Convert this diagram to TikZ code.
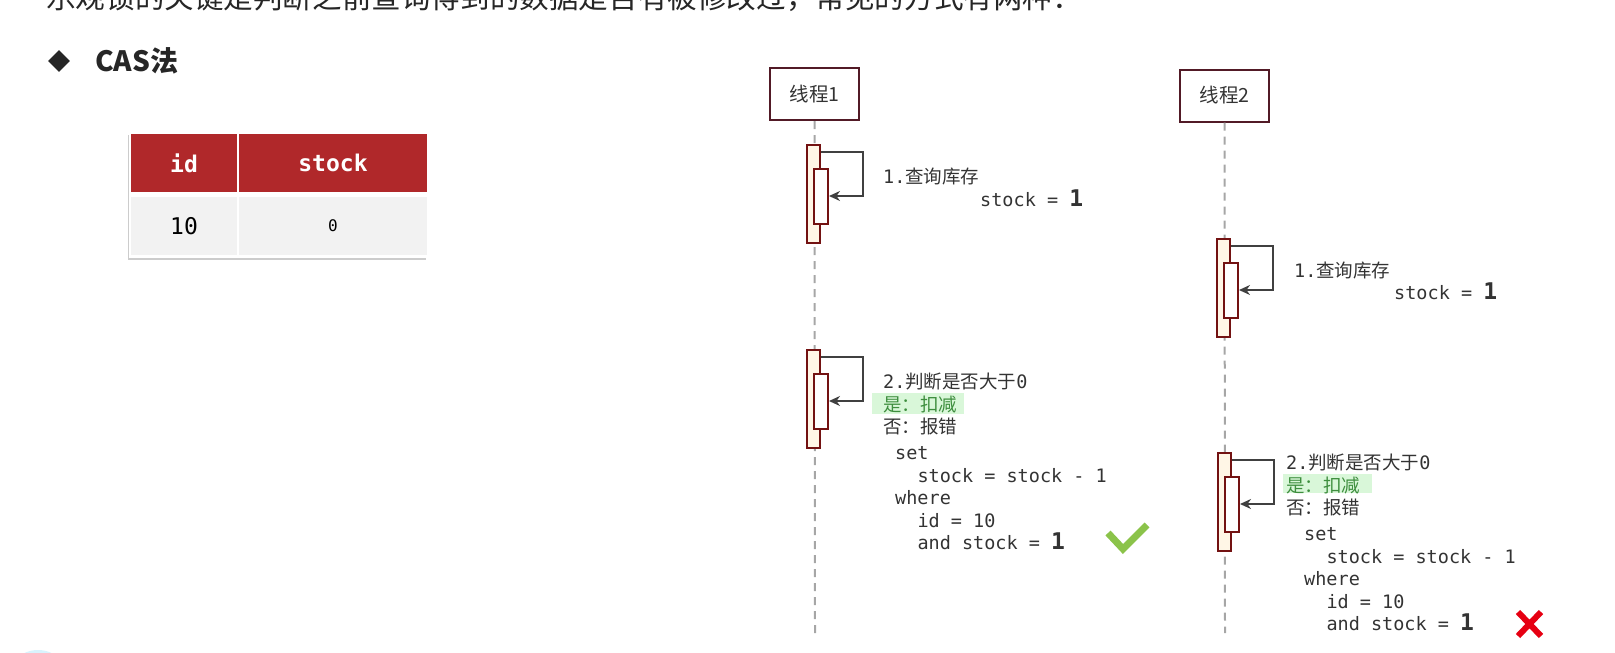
\documentclass[tikz,border=0pt]{standalone}
\usepackage{fontspec}
\setmainfont{Noto Sans CJK SC}
\setmonofont{DejaVu Sans Mono}
\usetikzlibrary{arrows.meta,shadows,shapes.geometric}

\definecolor{boxline}{HTML}{521A26}
\definecolor{barline}{HTML}{731212}
\definecolor{barfill}{HTML}{FFF6E6}
\definecolor{headred}{HTML}{B0282A}
\definecolor{rowgray}{HTML}{F2F2F2}
\definecolor{txtgray}{HTML}{333333}
\definecolor{hlgreen}{HTML}{D9F7D9}
\definecolor{hltext}{HTML}{3E8E3E}
\definecolor{okgreen}{HTML}{8BC34A}
\definecolor{nored}{HTML}{E60012}

\newcommand\zh[1]{{\rmfamily #1}}
\newcommand\one{{\fontsize{23}{23}\selectfont\bfseries 1}}
\newcommand\ind{\hspace*{22.3pt}}

\tikzset{
    thread/.style={draw=boxline, line width=2pt, minimum width=89pt, minimum height=52pt,
        inner sep=0pt, text=txtgray, font=\fontsize{19.5}{20}\selectfont},
    life/.style={draw=black!35, line width=2pt, dash pattern=on 8pt off 6pt},
    outerbar/.style={draw=barline, fill=barfill, line width=2pt, minimum width=13pt,
        minimum height=98pt, inner sep=0pt},
    innerbar/.style={draw=barline, fill=white, line width=2pt, minimum width=14pt,
        minimum height=55pt, inner sep=0pt},
    call/.style={draw=black!75, line width=2pt, ->},
    code/.style={font=\ttfamily\fontsize{18.5}{22.5}\selectfont, text=txtgray,
        anchor=base west, inner sep=0pt},
    headcell/.style={fill=headred, draw=white, line width=2.5pt, minimum height=61pt,
        text=white, font=\ttfamily\bfseries\fontsize{23}{23}\selectfont},
    rowcell/.style={fill=rowgray, draw=white, line width=2.5pt, minimum height=61pt,
        text=black}
}

\begin{document}
\begin{tikzpicture}[x=1pt, y=-1pt, >={Stealth[length=11pt,width=10pt]}]
    \useasboundingbox (0,0) rectangle (1615,653);
    \clip (0,0) rectangle (1615,653);

    \node[anchor=base west, inner sep=0pt, text=black!85, font=\fontsize{29.6}{30}\selectfont]
        (intro) at (46,9) {乐观锁的关键是判断之前查询得到的数据是否有被修改过，常见的方式有两种：};
    \node[diamond, fill=black!85, minimum size=22pt, inner sep=0pt] (dot) at (59,61) {};
    \node[anchor=west, inner sep=0pt, text=black!85, font=\bfseries\fontsize{28}{28}\selectfont]
        (cas) at (95,61) {CAS法};
    \fill[cyan!15] (38,664) ellipse (22pt and 14pt);

    \node[fill=white, minimum width=298pt, minimum height=125pt, inner sep=0pt,
        drop shadow={shadow xshift=-2pt, shadow yshift=-3pt, opacity=0.4}] (tbl) at (279,194.5) {};
    \node[headcell, minimum width=108pt] (hid) at (184,163) {id};
    \node[headcell, minimum width=190pt] (hstock) at (333,163) {stock};
    \node[rowcell, minimum width=108pt, font=\ttfamily\fontsize{23}{23}\selectfont] (vid) at (184,226) {10};
    \node[rowcell, minimum width=190pt, font=\ttfamily\fontsize{16}{16}\selectfont] (vstock) at (333,226) {0};

    \node[thread] (t1) at (814.5,94) {线程1};
    \node[thread] (t2) at (1224.5,95.5) {线程2};
    \coordinate (e1) at (815,633);
    \coordinate (e2) at (1225,633);
    \draw[life] (t1.south) -- (e1);
    \draw[life] (t2.south) -- (e2);

    \foreach \x/\y [count=\i] in {815/144, 815/349, 1225/238, 1226/452}{
        \node[outerbar] (a\i) at (\x-1.5,\y+50) {};
        \node[innerbar] (b\i) at (\x+6,\y+52) {};
        \draw[call] ([yshift=-8pt]a\i.north east) -- ++(42,0) |- (b\i.east);
    }

    \fill[hlgreen] (872,393) rectangle (964,414);
    \fill[hlgreen] (1283,474) rectangle (1372,493);

    \node[code] (q1) at (883,183.5) {1.\zh{查询库存}};
    \node[code] (s1) at (980,206.5) {stock = \one};
    \node[code] (q2) at (1294,277.5) {1.\zh{查询库存}};
    \node[code] (s2) at (1394,299.5) {stock = \one};

    \foreach \x/\y/\cx/\cy [count=\i] in {883/388.5/895/459.5, 1286/469.5/1304/540.5}{
        \node[code] (j\i-0) at (\x,\y) {2.\zh{判断是否大于}0};
        \node[code, text=hltext] (j\i-1) at (\x,\y+22.5) {\zh{是：扣减}};
        \node[code] (j\i-2) at (\x,\y+45) {\zh{否：报错}};
        \foreach \t [count=\k from 0] in {set, \ind stock = stock - 1, where, \ind id = 10, \ind and stock = \one}
            \node[code] (c\i-\k) at (\cx,\cy+22.5*\k) {\t};
    }

    \draw[okgreen, line width=7pt] (1108,533) -- (1123,549) -- (1147,525);
    \draw[nored, line width=6pt] (1518,612) -- (1541,636) (1518,636) -- (1541,612);

\end{tikzpicture}
\end{document}
